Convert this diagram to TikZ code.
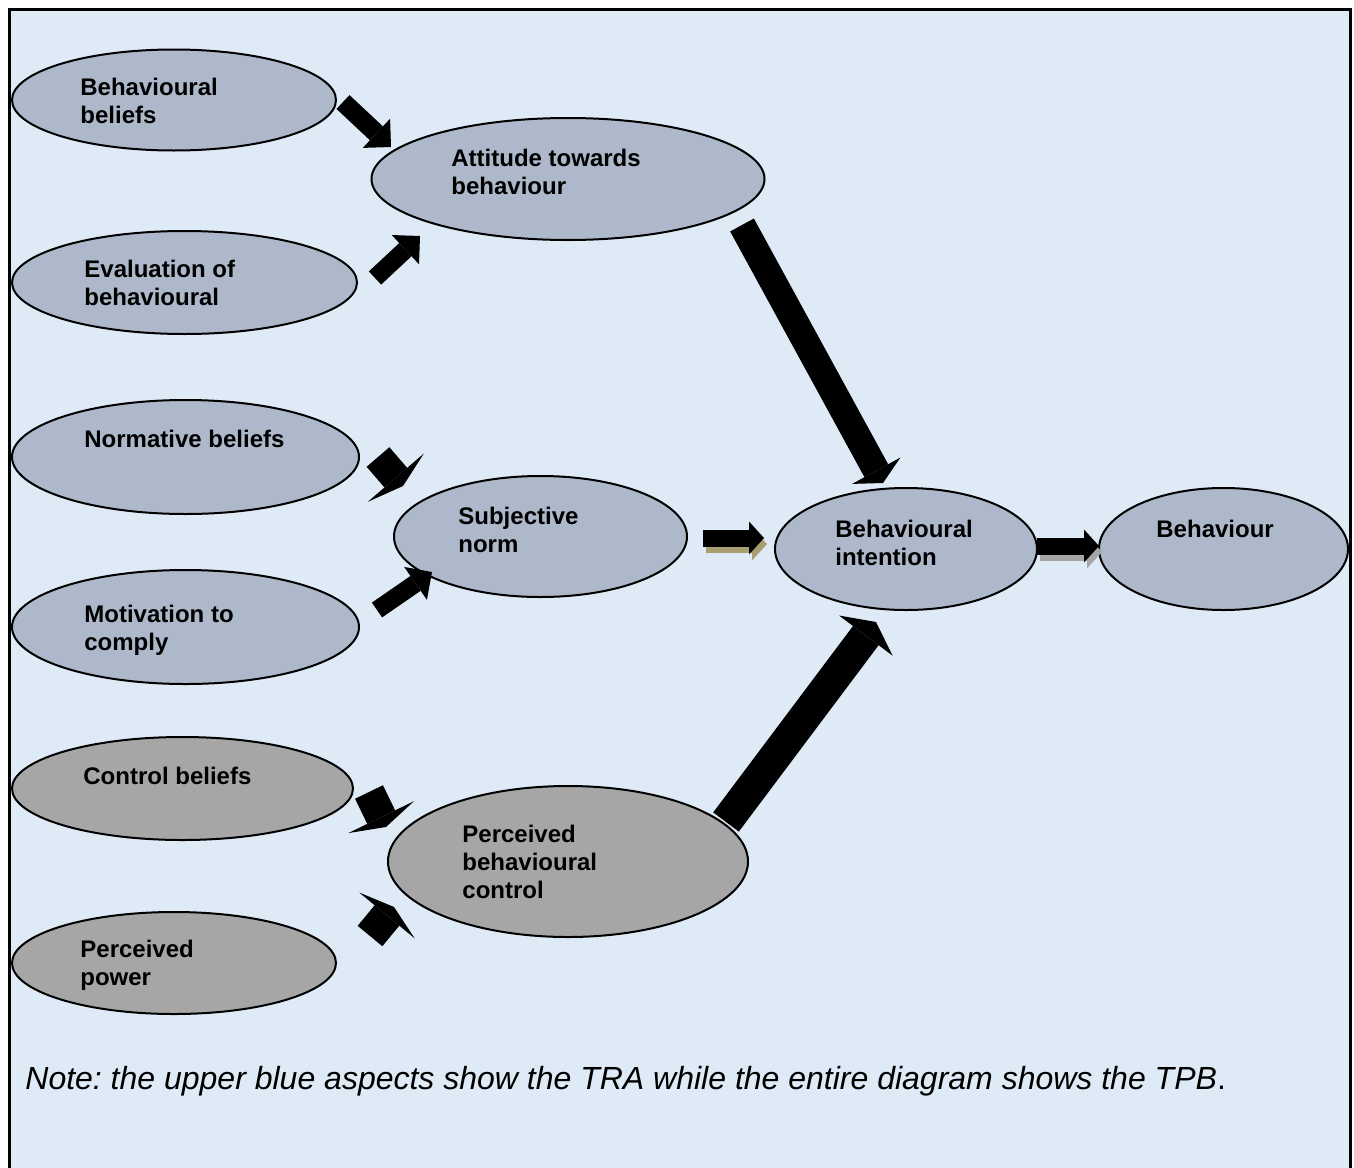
\documentclass[tikz,border=0pt]{standalone}
\usepackage{fontspec}
\setmainfont{Liberation Sans}
\usetikzlibrary{shapes.geometric,arrows.meta}
\definecolor{paneBlue}{HTML}{DEEAF6}
\definecolor{traBlue}{HTML}{ADB9CA}
\definecolor{tpbGray}{HTML}{A6A6A6}
\definecolor{shadeKhaki}{HTML}{A89E72}
\frenchspacing
\tikzset{
  oval/.style={ellipse, draw, line width=1pt, inner sep=0pt},
  tra/.style={oval, fill=traBlue},
  tpb/.style={oval, fill=tpbGray},
  lbl/.style={anchor=base west, align=left, inner sep=0pt, font=\bfseries\fontsize{12}{14}\selectfont},
  fat/.style n args={3}{line width=#1, -{Triangle[length=#2, width=#3, line width=0pt]}},
}
\begin{document}
\begin{tikzpicture}[x=0.5pt,y=-0.5pt]
      \useasboundingbox (0,0) rectangle (1354,1167);
      \clip (0,0) rectangle (1354,1167);
      \fill[white] (0,0) rectangle (1354,1167);
      \draw[line width=1.5pt, fill=paneBlue] (9,9) rectangle (1350,1220);
      \node[tra, minimum width=162pt, minimum height=50.5pt] (bb) at (174,100) {};
      \node[tra, minimum width=196.5pt, minimum height=61pt] (att) at (568,179) {};
      \node[tra, minimum width=172.5pt, minimum height=51.5pt] (ev) at (184.5,282.5) {};
      \node[tra, minimum width=173.5pt, minimum height=57pt] (nb) at (185.5,457) {};
      \node[tra, minimum width=146.5pt, minimum height=60.5pt] (sn) at (540.5,536.5) {};
      \node[tra, minimum width=173.5pt, minimum height=57pt] (mc) at (185.5,627) {};
      \node[tra, minimum width=131pt, minimum height=61pt] (bi) at (906,549) {};
      \node[tra, minimum width=124.5pt, minimum height=61pt] (beh) at (1223.5,549) {};
      \node[tpb, minimum width=170.5pt, minimum height=51.5pt] (cb) at (182.5,788.5) {};
      \node[tpb, minimum width=180pt, minimum height=75.5pt] (pbc) at (568,861.5) {};
      \node[tpb, minimum width=162pt, minimum height=51pt] (pp) at (174,963) {};
      \node[lbl] (bb-t) at (80,123) {Behavioural\\beliefs};
      \node[lbl] (att-t) at (451,194) {Attitude towards\\behaviour};
      \node[lbl] (ev-t) at (84,305) {Evaluation of\\behavioural};
      \node[lbl] (nb-t) at (84,447) {Normative beliefs};
      \node[lbl] (sn-t) at (458,552) {Subjective\\norm};
      \node[lbl] (mc-t) at (84,650) {Motivation to\\comply};
      \node[lbl] (bi-t) at (835,565) {Behavioural\\intention};
      \node[lbl] (beh-t) at (1156,537) {Behaviour};
      \node[lbl] (cb-t) at (83,784) {Control beliefs};
      \node[lbl] (pbc-t) at (462,898) {Perceived\\behavioural\\control};
      \node[lbl] (pp-t) at (80,985) {Perceived\\power};
      \node[anchor=base west, inner sep=0pt, font=\fontsize{16}{19}\selectfont] (note) at (25,1089)
        {\textit{Note: the upper blue aspects show the TRA while the entire diagram shows the TPB}.};
      \coordinate (bb-o) at (343,102);  \coordinate (att-i1) at (391,147);
      \coordinate (ev-o) at (375,278);  \coordinate (att-i2) at (420,236);
      \coordinate (nb-o) at (378,457);  \coordinate (sn-i1) at (403,486);
      \coordinate (mc-o) at (377,610);  \coordinate (sn-i2) at (432,572);
      \coordinate (sn-o) at (703,538);  \coordinate (bi-i2) at (764,538);
      \coordinate (bi-o) at (1037,546); \coordinate (beh-i) at (1099,546);
      \coordinate (att-o) at (742,225); \coordinate (bi-i1) at (883,483);
      \coordinate (pbc-o) at (726,822); \coordinate (bi-i3) at (876,622);
      \coordinate (cb-o) at (369,792);  \coordinate (pbc-i1) at (386,827);
      \coordinate (pp-o) at (370,936);  \coordinate (pbc-i2) at (394,907);
      \draw[fat={9.5pt}{10pt}{20pt}] (bb-o) -- (att-i1);
      \draw[fat={9pt}{10pt}{20pt}] (ev-o) -- (att-i2);
      \draw[fat={15pt}{5.5pt}{37pt}] (nb-o) -- (sn-i1);
      \draw[fat={9pt}{10pt}{20pt}] (mc-o) -- (sn-i2);
      \draw[fat={8.5pt}{7.5pt}{16.5pt}, shadeKhaki, transform canvas={shift={(1.5pt,-3pt)}}] (sn-o) -- (bi-i2);
      \draw[fat={8.5pt}{7.5pt}{16.5pt}] (sn-o) -- (bi-i2);
      \draw[fat={8.5pt}{7.5pt}{16.5pt}, tpbGray, transform canvas={shift={(1.5pt,-3pt)}}] (bi-o) -- (beh-i);
      \draw[fat={8.5pt}{7.5pt}{16.5pt}] (bi-o) -- (beh-i);
      \draw[fat={13.5pt}{7pt}{27.5pt}] (att-o) -- (bi-i1);
      \draw[fat={16pt}{8.5pt}{33.5pt}] (pbc-o) -- (bi-i3);
      \draw[fat={15.5pt}{5.5pt}{36.5pt}] (cb-o) -- (pbc-i1);
      \draw[fat={16pt}{5.5pt}{36pt}] (pp-o) -- (pbc-i2);
    \end{tikzpicture}
\end{document}
